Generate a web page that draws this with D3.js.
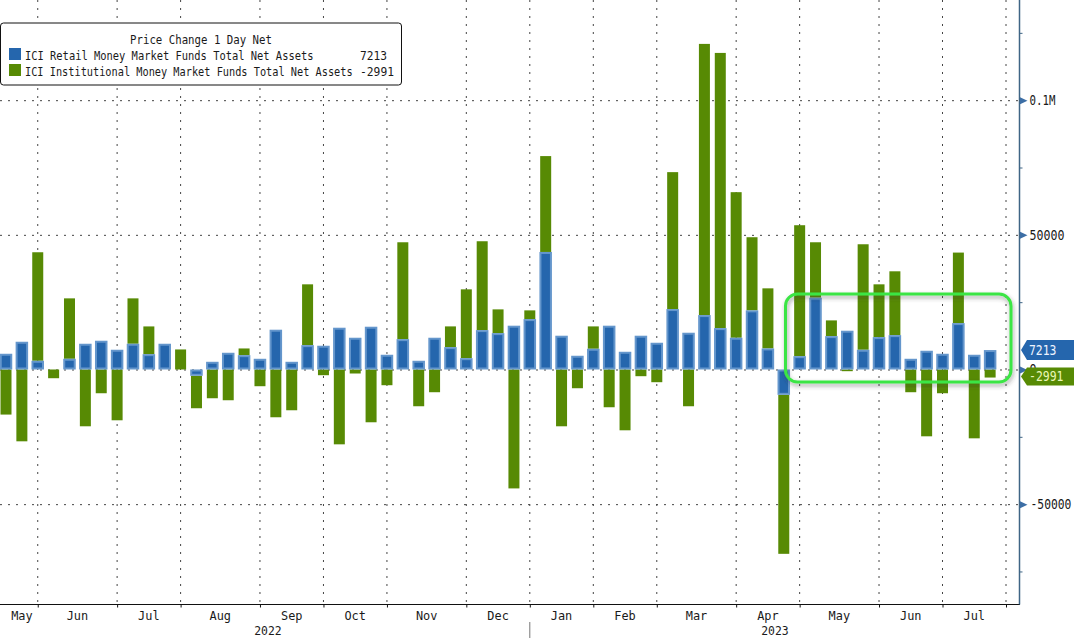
<!DOCTYPE html>
<html>
<head>
<meta charset="utf-8">
<script src="https://cdn.jsdelivr.net/npm/d3@7"></script>
<style>
body { margin: 0; background: #fff; }
text { font-family: "DejaVu Sans Mono", monospace; fill: #1a1a1a; }
</style>
</head>
<body>
<svg id="chart" width="1074" height="638"></svg>
<script>
// weekly, first bar 18 May 2022, last bar 26 Jul 2023
const retail = [5840, 10300, 3240, 0, 3980, 9560, 10680, 7330, 9560, 5690, 9560, 0, -2340, 2860, 6210, 5320,
	3980, 14770, 2860, 9040, 8820, 15510, 11790, 15880, 5470, 11270, 3240, 11790, 8300, 4200, 14620, 13500,
	16260, 18710, 43640, 12540, 5100, 7700, 16260, 6580, 12540, 9930, 22430, 13650, 20200, 15360, 11790, 21950,
	7810, -9410, 4950, 26670, 12390, 14400, 7330, 12020, 12760, 3980, 6960, 5840, 17220, 5470, 7213];
const institutional = [-16740, -26670, 40290, -3240, 22430, -21090, -8820, -18860, 16850, 10300, 0, 7440, -12050, -10680, -11420, 2490,
	-6210, -17740, -15140, 22580, -2120, -27790, -1490, -19600, -5840, 35970, -13650, -8440, 7700, 25560, 33000, 8820,
	-44160, 3240, 35600, -21090, -6960, 8300, -14020, -22580, -2490, -4720, 50850, -13650, 100700, 102190, 54050, 27160,
	22320, -59040, 48620, 20570, 5840, -630, 39170, 19600, 23700, -8440, -24810, -8820, 26190, -25560, -2991];

const monthStarts = ["2022-05-18", "2022-06-01", "2022-07-06", "2022-08-03", "2022-09-07", "2022-10-05", "2022-11-02", "2022-12-07",
	"2023-01-04", "2023-02-01", "2023-03-01", "2023-04-05", "2023-05-03", "2023-06-07", "2023-07-05", "2023-08-02"];
const monthLabels = ["May", "Jun", "Jul", "Aug", "Sep", "Oct", "Nov", "Dec", "Jan", "Feb", "Mar", "Apr", "May", "Jun", "Jul"];
const majorTicks = [100000, 50000, 0, -50000];
const minorTicks = [125000, 75000, 25000, -25000, -75000];
const legendNames = ["ICI Retail Money Market Funds Total Net Assets", "ICI Institutional Money Market Funds Total Net Assets"];
const lastValues = [7213, -2991];

const blue = "#2566ad", blueEdge = "#6496cc", green = "#578a04", gridCol = "#444";
const parse = d3.utcParse("%Y-%m-%d");
const weeks = d3.utcWednesday.range(parse("2022-05-18"), parse("2023-07-27"));
const rows = weeks.map((d, i) => ({ date: d, retail: retail[i], institutional: institutional[i] }));

const svg = d3.select("#chart");
const x = d3.scaleUtc().domain([parse("2022-05-18"), parse("2023-08-02")]).range([6, 1006]);
const y = d3.scaleLinear().domain([-87080, 137200]).range([604, 0]);
const tickDates = monthStarts.map(parse);

// the terminal font is tall and narrow, so squeeze the glyphs to the measured width
const fit = (sel, size, width) => sel.attr("font-size", size).attr("transform", function (d) {
	const px = +this.getAttribute("x");
	const w = typeof width === "function" ? width(d) : width;
	const sx = w / this.getComputedTextLength();
	return `translate(${px} 0) scale(${sx} 1) translate(${-px} 0)`;
});

// gridlines sit behind the bars
svg.append("g").selectAll("line").data(tickDates.slice(1)).join("line")
	.attr("x1", d => x(d)).attr("x2", d => x(d)).attr("y1", 0).attr("y2", 604)
	.attr("stroke", gridCol).attr("stroke-dasharray", "2 6");
svg.append("g").selectAll("line").data(majorTicks).join("line")
	.attr("x1", 0).attr("x2", 1020).attr("y1", d => y(d) + 0.5).attr("y2", d => y(d) + 0.5)
	.attr("stroke", gridCol).attr("stroke-dasharray", "2 6");

const stacked = d3.stack().keys(["retail", "institutional"]).offset(d3.stackOffsetDiverging)(rows);

svg.append("g").selectAll("rect").data(stacked[1]).join("rect")
	.attr("x", d => x(d.data.date) - 5.5).attr("width", 11)
	.attr("y", d => Math.min(y(d[0]), y(d[1])))
	.attr("height", d => Math.abs(y(d[0]) - y(d[1])))
	.attr("fill", green);

// outline is kept inside the value box
svg.append("g").selectAll("rect").data(stacked[0].filter(d => d[0] !== d[1])).join("rect")
	.attr("x", d => x(d.data.date) - 5.25).attr("width", 10.5)
	.attr("y", d => Math.min(y(d[0]), y(d[1])) + 1)
	.attr("height", d => Math.abs(y(d[0]) - y(d[1])) - 2)
	.attr("fill", blue).attr("stroke", blueEdge).attr("stroke-width", 2);

// bottom axis
const xAxis = svg.append("g").attr("transform", "translate(0,604.5)")
	.call(d3.axisBottom(x).tickValues(tickDates.slice(1)).tickFormat("").tickSize(3).tickSizeOuter(0));
xAxis.select(".domain").attr("d", "M0,0H1020").attr("stroke", "#111");
xAxis.selectAll("line").attr("stroke", "#111");

svg.append("g").selectAll("text").data(monthLabels).join("text")
	.attr("x", (d, i) => (x(tickDates[i]) + x(tickDates[i + 1])) / 2)
	.attr("y", 620).attr("text-anchor", "middle").text(d => d)
	.call(fit, 13, 21.5);

svg.append("text").attr("x", (x(tickDates[0]) + x(tickDates[8])) / 2).attr("y", 635.5)
	.attr("text-anchor", "middle").text("2022").call(fit, 13, 27.5);
svg.append("text").attr("x", (x(tickDates[8]) + 1020) / 2).attr("y", 635.5)
	.attr("text-anchor", "middle").text("2023").call(fit, 13, 27.5);
svg.append("line").attr("x1", x(tickDates[8])).attr("x2", x(tickDates[8])).attr("y1", 622).attr("y2", 638)
	.attr("stroke", "#777");

// right axis
const yAxis = svg.append("g").attr("transform", "translate(1019.5,0)")
	.call(d3.axisRight(y).tickValues(minorTicks).tickFormat("").tickSize(3).tickSizeOuter(0));
yAxis.select(".domain").attr("d", "M0,0V604.5").attr("stroke", "#3f6585").attr("stroke-width", 1.5);
yAxis.selectAll("line").attr("stroke", "#3f6585");

const yMajor = svg.append("g").attr("transform", "translate(1019.5,0)")
	.call(d3.axisRight(y).tickValues(majorTicks).tickSize(0).tickPadding(10)
		.tickFormat(d => d === 100000 ? "0.1M" : d));
yMajor.select(".domain").remove();
yMajor.selectAll(".tick").append("path").attr("d", "M0.5,-3.5L8,0L0.5,3.5Z").attr("fill", "#3c6ea5");
yMajor.selectAll(".tick text").attr("font-family", null)
	.attr("x", d => d === -50000 ? 11 : 10)
	.call(fit, 13.5, d => d === 100000 ? 26 : d === -50000 ? 41 : d === 0 ? 7 : 35);

// last value tags
const tagColours = [[blue, "#eef4ff"], [green, "#eaf7b8"]];
const tagY = [350, 376.5];
lastValues.forEach((v, i) => {
	const c = tagY[i], h = i === 0 ? 10 : 9;
	svg.append("path")
		.attr("d", `M1021,${c}L1027,${c - h}H1074V${c + h}H1027Z`)
		.attr("fill", tagColours[i][0]);
	svg.append("text").attr("x", 1029).attr("y", c + 5).style("fill", tagColours[i][1]).text(v)
		.call(fit, 13.5, i === 0 ? 27.5 : 34.5);
});

// highlight box
const glow = svg.append("defs").append("filter").attr("id", "shade")
	.attr("x", "-5%").attr("y", "-10%").attr("width", "110%").attr("height", "125%");
glow.append("feDropShadow").attr("dx", 1).attr("dy", 2.5).attr("stdDeviation", 2)
	.attr("flood-color", "#333").attr("flood-opacity", 0.45);
svg.append("rect").attr("x", 785.5).attr("y", 294).attr("width", 225.5).attr("height", 88).attr("rx", 12)
	.attr("fill", "none").attr("stroke", "#3be544").attr("stroke-width", 3).attr("filter", "url(#shade)");

// legend
const legend = svg.append("g");
legend.append("rect").attr("x", 0.5).attr("y", 23).attr("width", 401).attr("height", 62).attr("rx", 3)
	.attr("fill", "#fff").attr("stroke", "#111");
legend.append("text").attr("x", 201).attr("y", 44).attr("text-anchor", "middle")
	.text("Price Change 1 Day Net").call(fit, 12.8, 142);
const nameWidths = [289, 328];
legendNames.forEach((name, i) => {
	const rowY = 60 + i * 16;
	legend.append("rect").attr("x", 9).attr("y", rowY - 12).attr("width", 12).attr("height", 12)
		.attr("fill", i === 0 ? blue : green);
	legend.append("text").attr("x", 25).attr("y", rowY).text(name).call(fit, 12.8, nameWidths[i]);
	legend.append("text").attr("x", i === 0 ? 387 : 394).attr("y", rowY).attr("text-anchor", "end")
		.text(lastValues[i]).call(fit, 12.8, i === 0 ? 27 : 34);
});
</script>
</body>
</html>
